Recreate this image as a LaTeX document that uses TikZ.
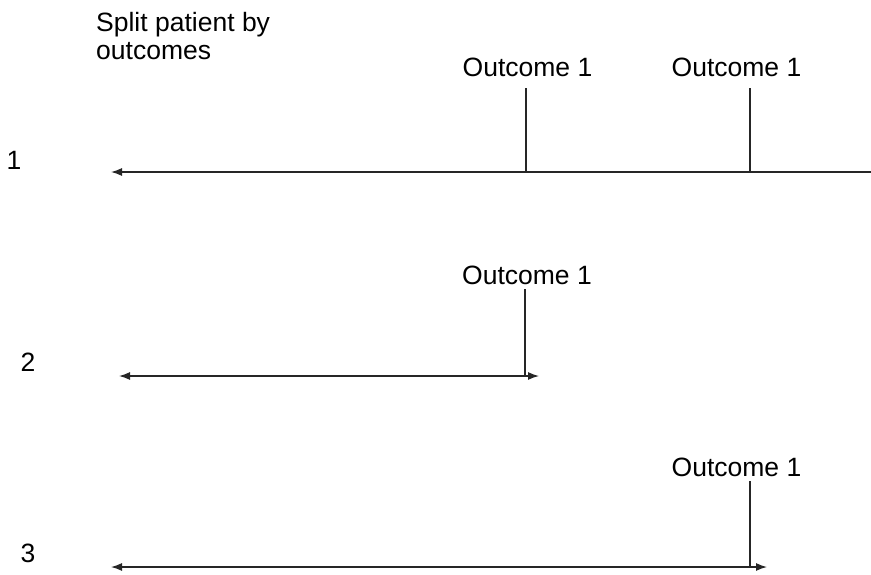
\documentclass[tikz,border=0pt]{standalone}
\usepackage{fontspec}
\setmainfont{Liberation Sans}
\usetikzlibrary{arrows.meta}
\begin{document}
\begin{tikzpicture}[x=1pt,y=-1pt,
  lbl/.style={inner sep=0pt,font=\fontsize{26.5}{30}\selectfont},
  tl/.style={line width=1.3pt,draw=black!85},
  arr/.style={tl,{Latex[length=11pt,width=8pt]}-{Latex[length=11pt,width=8pt]}}]
\useasboundingbox (0,0) rectangle (871,574);
% title
\node[lbl,anchor=base west] (t1) at (96,31) {Split patient by};
\node[lbl,anchor=base west] (t2) at (96,59) {outcomes};
% row numbers
\node[lbl,anchor=base] (n1) at (14,169) {1};
\node[lbl,anchor=base] (n2) at (28,371) {2};
\node[lbl,anchor=base] (n3) at (28,562) {3};
% row 1
\coordinate (a1) at (111,172);
\coordinate (b1) at (882,172);
\draw[arr] (a1) -- (b1);
\coordinate (v11) at (526,172);
\coordinate (v12) at (750,172);
\node[lbl,anchor=base] (o11) at (527.5,76) {Outcome 1};
\node[lbl,anchor=base] (o12) at (736.5,76) {Outcome 1};
\coordinate (u11) at (526,88);
\coordinate (u12) at (750,88);
\draw[tl] (u11) -- (v11);
\draw[tl] (u12) -- (v12);
% row 2
\coordinate (a2) at (119,376);
\coordinate (b2) at (539,376);
\draw[arr] (a2) -- (b2);
\node[lbl,anchor=base] (o2) at (527,284) {Outcome 1};
\coordinate (u2) at (525,289);
\coordinate (v2) at (525,376);
\draw[tl] (u2) -- (v2);
% row 3
\coordinate (a3) at (111,567);
\coordinate (b3) at (767,567);
\draw[arr] (a3) -- (b3);
\node[lbl,anchor=base] (o3) at (736.5,476) {Outcome 1};
\coordinate (u3) at (750,481);
\coordinate (v3) at (750,567);
\draw[tl] (u3) -- (v3);
\end{tikzpicture}
\end{document}
